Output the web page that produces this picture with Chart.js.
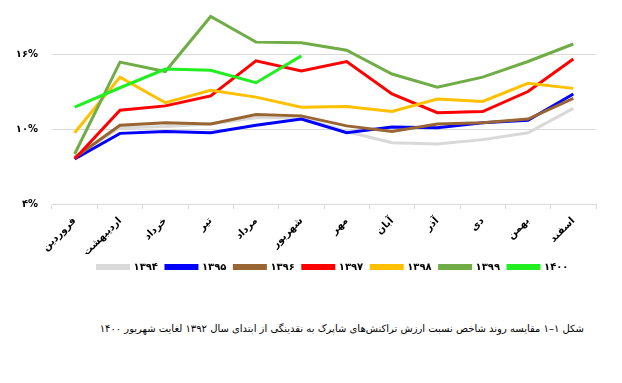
<!DOCTYPE html>
<html lang="fa">
<head>
<meta charset="UTF-8">
<title>مقایسه روند شاخص</title>
<script src="https://cdn.jsdelivr.net/npm/chart.js"></script>
<style>
    body { margin: 0; background: #fff; width: 622px; height: 383px; position: relative; overflow: hidden; }
    .chart-box { position: absolute; left: 0; top: 0; width: 622px; height: 284px; }
    .caption {
        position: absolute; top: 323px; right: 38px;
        font-family: 'DejaVu Sans', sans-serif; font-size: 10px; color: #000;
        direction: rtl; white-space: nowrap;
    }
</style>
</head>
<body>
<div class="chart-box"><canvas id="chart"></canvas></div>
<div class="caption">شکل ۱–۱ مقایسه روند شاخص نسبت ارزش تراکنش‌های شاپرک به نقدینگی از ابتدای سال ۱۳۹۲ لغایت شهریور ۱۴۰۰</div>
<script>
// ماه‌ها
const months = ['فروردین', 'اردیبهشت', 'خرداد', 'تیر', 'مرداد', 'شهریور', 'مهر', 'آبان', 'آذر', 'دی', 'بهمن', 'اسفند'];
const yearLabels = ['۱۳۹۴', '۱۳۹۵', '۱۳۹۶', '۱۳۹۷', '۱۳۹۸', '۱۳۹۹', '۱۴۰۰'];
const yearColors = ['#D9D9D9', '#0000FF', '#996633', '#FF0000', '#FFC000', '#70AD47', '#22EE22'];

// مقادیر (درصد)
const y1394 = [7.8, 10.1, 10.2, 10.4, 10.9, 10.9, 9.8, 8.9, 8.8, 9.15, 9.7, 11.65];
const y1395 = [7.6, 9.65, 9.8, 9.7, 10.3, 10.8, 9.7, 10.15, 10.1, 10.5, 10.7, 12.8];
const y1396 = [7.7, 10.3, 10.5, 10.4, 11.15, 11.05, 10.25, 9.8, 10.4, 10.5, 10.8, 12.45];
const y1397 = [7.6, 11.5, 11.85, 12.65, 15.45, 14.65, 15.4, 12.8, 11.3, 11.4, 13.0, 15.6];
const y1398 = [9.7, 14.15, 12.1, 13.1, 12.55, 11.75, 11.8, 11.4, 12.4, 12.2, 13.65, 13.25];
const y1399 = [8.0, 15.35, 14.6, 19.0, 16.95, 16.9, 16.3, 14.4, 13.35, 14.15, 15.4, 16.8];
const y1400 = [11.75, 13.3, 14.8, 14.7, 13.7, 15.85];

const yTicks = [4, 10, 16];

const toFa = s => String(s).replace(/\d/g, d => '۰۱۲۳۴۵۶۷۸۹'[d]);

const series = [y1394, y1395, y1396, y1397, y1398, y1399, y1400];
const datasets = series.map((data, i) => ({
    label: yearLabels[i],
    data: data,
    borderColor: yearColors[i],
    backgroundColor: yearColors[i],
    borderWidth: 3,
    pointRadius: 0,
    tension: 0,
    order: series.length - i   // later years drawn on top
}));

// legend sits a little right of centre in the original
const legendShift = {
    id: 'legendShift',
    afterLayout(chart) {
        chart.legend.left += 35;
        chart.legend.right += 35;
    }
};

const ctx = document.getElementById('chart').getContext('2d');
new Chart(ctx, {
    type: 'line',
    data: { labels: months, datasets: datasets },
    plugins: [legendShift],
    options: {
        responsive: true,
        maintainAspectRatio: false,
        animation: false,
        layout: { padding: { top: 4, right: 26, left: 0, bottom: 2 } },
        scales: {
            x: {
                offset: true,
                grid: { drawOnChartArea: false, offset: true, tickLength: 5, color: '#D9D9D9' },
                border: { color: '#D9D9D9' },
                ticks: {
                    maxRotation: 45, minRotation: 45, padding: 6,
                    color: '#000',
                    font: { family: 'DejaVu Sans', size: 10, weight: '600' }
                },
                afterFit: s => { s.height = 50; }
            },
            y: {
                min: 4, max: 20,
                afterBuildTicks: s => { s.ticks = yTicks.map(v => ({ value: v })); },
                grid: { color: '#D9D9D9', drawTicks: false },
                border: { display: false },
                ticks: {
                    padding: 14, color: '#000',
                    font: { family: 'DejaVu Sans', size: 10, weight: 'bold' },
                    callback: v => toFa(v) + '%'
                },
                afterFit: s => { s.width = 52; s.paddingTop = 0; s.paddingBottom = 0; }
            }
        },
        plugins: {
            legend: {
                position: 'bottom',
                labels: {
                    boxWidth: 31, boxHeight: 3, padding: 8,
                    color: '#000',
                    font: { family: 'DejaVu Sans', size: 10, weight: 'bold' },
                    sort: (a, b) => a.datasetIndex - b.datasetIndex
                }
            },
            tooltip: { enabled: false }
        }
    }
});
</script>
</body>
</html>
